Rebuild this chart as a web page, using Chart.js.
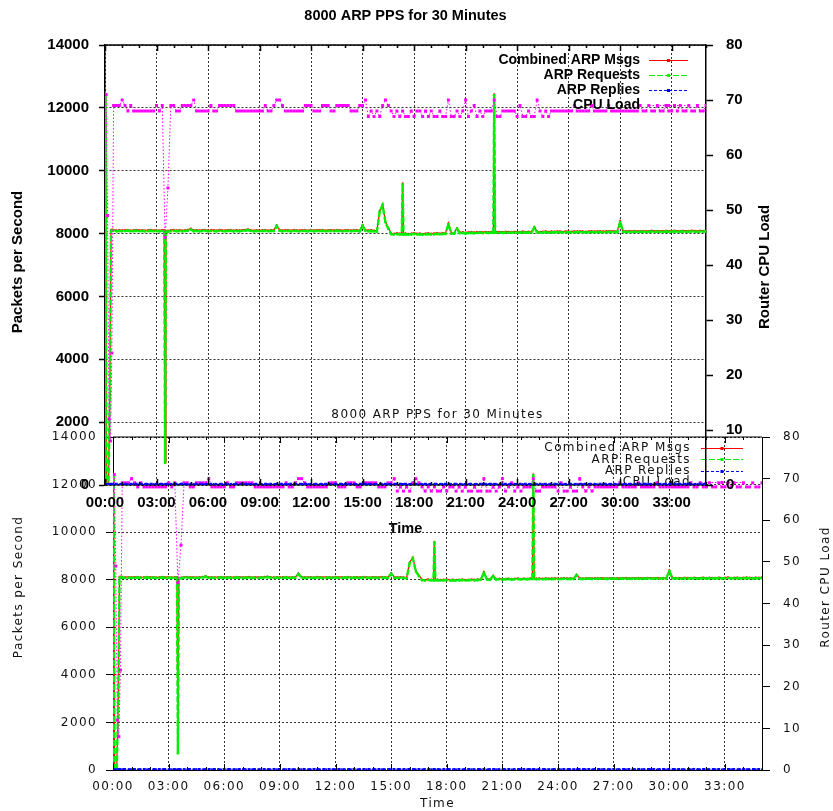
<!DOCTYPE html>
<html>
<head>
<meta charset="utf-8">
<title>8000 ARP PPS for 30 Minutes</title>
<script src="https://cdn.jsdelivr.net/npm/chart.js@4.4.1/dist/chart.umd.min.js"></script>
<style>
  body { margin: 0; background: #fff; }
  #stage { position: relative; width: 833px; height: 811px; overflow: hidden; }
  canvas { position: absolute; left: 0; }
</style>
</head>
<body>
<div id="stage">
  <canvas id="lower" width="833" height="411" style="top:400px"></canvas>
  <canvas id="upper" width="833" height="545" style="top:0"></canvas>
</div>
<script>
const chartTitle = '8000 ARP PPS for 30 Minutes';
const seriesNames = ['Combined ARP Msgs', 'ARP Requests', 'ARP Replies', 'CPU Load'];
const xTickLabels = ['00:00', '03:00', '06:00', '09:00', '12:00', '15:00', '18:00', '21:00', '24:00', '27:00', '30:00', '33:00'];
const ppsTicks = [0, 2000, 4000, 6000, 8000, 10000, 12000, 14000];
const cpuTicks = [0, 10, 20, 30, 40, 50, 60, 70, 80];
const X_MAX = 2100;        // seconds shown on the time axis
const X_TICK_STEP = 180;   // one labelled tick every 3 minutes
const X_MINOR_STEP = 60;

// first seconds of the run, sampled irregularly
const rateStartTimes = [0, 2, 5, 12, 17, 21, 25];
const combinedStart = [0, 12420, 25, 70, 2900, 8120, 8130];
const requestsStart = [0, 12400, 0, 40, 2870, 8090, 8100];
const repliesStart = [0, 20, 25, 30, 30, 30, 30];
const cpuStartTimes = [4, 9, 14, 19, 24];
const cpuStart = [71, 49, 12, 8, 24];

// samples just beside the narrow dip / spikes (03:30, 17:20, 22:40)
const rateEdgeTimes = [207, 213, 1037, 1043, 1357, 1363];
const combinedEdge = [8110, 8090, 8010, 8005, 8050, 8060];
const requestsEdge = [8080, 8060, 7980, 7975, 8020, 8030];
const repliesEdge = [30, 30, 30, 30, 30, 30];

// then one sample every 10 s from t = 30 s
const SAMPLE_START = 30;
const SAMPLE_STEP = 10;

const combinedVals = [
  8120, 8105, 8110, 8105, 8115, 8120, 8100, 8110, 8125, 8105,
  8115, 8100, 8110, 8125, 8105, 8110, 8100, 8115, 720, 8095,
  8110, 8120, 8105, 8115, 8100, 8110, 8120, 8160, 8105, 8115,
  8100, 8115, 8120, 8105, 8110, 8115, 8100, 8120, 8110, 8105,
  8115, 8120, 8100, 8110, 8105, 8115, 8125, 8140, 8110, 8100,
  8115, 8105, 8110, 8120, 8100, 8115, 8110, 8270, 8120, 8105,
  8110, 8115, 8100, 8120, 8110, 8105, 8115, 8110, 8100, 8120,
  8105, 8115, 8110, 8120, 8100, 8110, 8115, 8105, 8120, 8110,
  8100, 8115, 8110, 8105, 8120, 8110, 8100, 8280, 8115, 8105,
  8110, 8100, 8090, 8730, 8930, 8380, 8180, 8010, 8000, 8015,
  8005, 9600, 8010, 7995, 8005, 8020, 8000, 8010, 7995, 8005,
  8015, 8000, 8010, 8020, 8005, 8015, 8020, 8330, 8030, 8025,
  8180, 8040, 8050, 8035, 8045, 8055, 8040, 8050, 8060, 8045,
  8055, 8050, 8060, 12430, 8055, 8060, 8050, 8065, 8055, 8060,
  8065, 8055, 8060, 8070, 8060, 8065, 8055, 8220, 8070, 8060,
  8065, 8075, 8060, 8070, 8065, 8075, 8070, 8060, 8075, 8070,
  8065, 8075, 8070, 8080, 8070, 8065, 8075, 8080, 8070, 8075,
  8080, 8070, 8075, 8085, 8075, 8080, 8070, 8400, 8090, 8080,
  8085, 8075, 8090, 8080, 8085, 8090, 8075, 8085, 8095, 8080,
  8090, 8085, 8080, 8095, 8085, 8090, 8100, 8085, 8090, 8095,
  8085, 8090, 8100, 8090, 8085, 8095, 8090, 8100
];

const requestsVals = [
  8090, 8070, 8085, 8075, 8080, 8095, 8070, 8080, 8090, 8075,
  8085, 8070, 8080, 8090, 8075, 8085, 8070, 8080, 700, 8060,
  8080, 8090, 8075, 8085, 8070, 8080, 8090, 8130, 8075, 8085,
  8070, 8080, 8090, 8075, 8085, 8080, 8070, 8090, 8080, 8075,
  8085, 8090, 8070, 8080, 8075, 8085, 8090, 8110, 8080, 8070,
  8085, 8075, 8080, 8090, 8070, 8085, 8080, 8240, 8090, 8075,
  8080, 8085, 8070, 8090, 8080, 8075, 8085, 8080, 8070, 8090,
  8075, 8085, 8080, 8090, 8070, 8080, 8085, 8075, 8090, 8080,
  8070, 8085, 8080, 8075, 8090, 8080, 8070, 8250, 8085, 8075,
  8080, 8070, 8060, 8700, 8900, 8350, 8150, 7980, 7970, 7985,
  7975, 9570, 7980, 7965, 7975, 7990, 7970, 7980, 7965, 7975,
  7985, 7970, 7980, 7990, 7975, 7985, 7990, 8300, 8000, 7995,
  8150, 8010, 8020, 8005, 8015, 8025, 8010, 8020, 8030, 8015,
  8025, 8020, 8030, 12400, 8025, 8030, 8020, 8035, 8025, 8030,
  8035, 8025, 8030, 8040, 8030, 8035, 8025, 8190, 8040, 8030,
  8035, 8045, 8030, 8040, 8035, 8045, 8040, 8030, 8045, 8040,
  8035, 8045, 8040, 8050, 8040, 8035, 8045, 8050, 8040, 8045,
  8050, 8040, 8045, 8055, 8045, 8050, 8040, 8370, 8060, 8050,
  8055, 8045, 8060, 8050, 8055, 8060, 8045, 8055, 8065, 8050,
  8060, 8055, 8050, 8065, 8055, 8060, 8070, 8055, 8060, 8065,
  8055, 8060, 8070, 8060, 8055, 8065, 8060, 8070
];

const repliesVals = [
  30, 35, 25, 30, 35, 25, 30, 30, 35, 30,
  30, 30, 30, 35, 30, 25, 30, 35, 20, 35,
  25, 35, 30, 25, 40, 30, 25, 30, 35, 30,
  35, 30, 25, 30, 35, 30, 25, 35, 30, 30,
  30, 25, 35, 30, 25, 35, 30, 30, 25, 35,
  30, 35, 25, 30, 35, 30, 25, 30, 35, 30,
  25, 30, 35, 30, 25, 30, 35, 30, 30, 25,
  35, 30, 25, 35, 30, 30, 25, 35, 30, 30,
  30, 25, 35, 30, 30, 25, 35, 30, 30, 35,
  30, 35, 25, 30, 30, 35, 30, 25, 35, 30,
  30, 30, 35, 25, 30, 35, 30, 25, 30, 35,
  25, 30, 35, 30, 25, 35, 30, 30, 25, 30,
  35, 30, 25, 30, 35, 30, 25, 30, 35, 30,
  30, 35, 30, 30, 25, 30, 35, 30, 25, 35,
  30, 25, 30, 35, 30, 30, 25, 35, 30, 30,
  35, 30, 25, 30, 35, 30, 30, 25, 30, 35,
  30, 25, 35, 30, 30, 25, 35, 30, 30, 25,
  35, 30, 30, 25, 35, 30, 25, 30, 35, 30,
  30, 35, 25, 30, 30, 35, 30, 25, 30, 35,
  25, 30, 35, 30, 25, 30, 35, 30, 30, 25,
  30, 35, 30, 25, 30, 35, 30, 30
];

const cpuVals = [
  69, 69, 69, 70, 69, 68, 69, 68, 68, 68,
  68, 68, 68, 68, 68, 69, 68, 69, 45, 54,
  69, 69, 68, 68, 69, 69, 69, 69, 70, 68,
  68, 68, 68, 68, 69, 68, 68, 69, 69, 69,
  69, 69, 69, 68, 68, 68, 68, 68, 68, 68,
  68, 68, 68, 69, 68, 68, 69, 70, 70, 69,
  68, 68, 68, 68, 68, 68, 68, 69, 69, 69,
  68, 68, 68, 69, 69, 69, 68, 68, 69, 69,
  69, 69, 69, 68, 68, 68, 69, 69, 70, 67,
  68, 67, 68, 67, 69, 70, 69, 68, 67, 68,
  67, 68, 67, 67, 68, 67, 68, 68, 67, 68,
  67, 68, 67, 67, 68, 67, 67, 70, 67, 67,
  68, 67, 68, 70, 67, 68, 69, 67, 68, 67,
  68, 68, 68, 70, 67, 67, 68, 68, 68, 68,
  68, 67, 69, 67, 67, 68, 67, 67, 70, 68,
  67, 68, 67, 68, 68, 68, 68, 68, 68, 68,
  68, 69, 68, 68, 68, 68, 68, 69, 68, 68,
  68, 68, 68, 69, 68, 68, 68, 68, 68, 68,
  68, 68, 68, 68, 69, 68, 68, 69, 68, 68,
  69, 68, 68, 69, 68, 68, 69, 68, 69, 68,
  68, 69, 68, 68, 69, 68, 68, 69
];

const pairUp = (times, vals) => times.map((t, i) => ({x: t, y: vals[i]}));

const toPoints = (startTimes, startVals, vals, edgeTimes = [], edgeVals = []) =>
  pairUp(startTimes, startVals)
    .concat(vals.map((v, i) => ({x: SAMPLE_START + i * SAMPLE_STEP, y: v})))
    .concat(pairUp(edgeTimes, edgeVals))
    .sort((a, b) => a.x - b.x);

const makeDatasets = () => [
  {label: seriesNames[0], data: toPoints(rateStartTimes, combinedStart, combinedVals, rateEdgeTimes, combinedEdge),
   borderColor: '#ff0000', borderWidth: 1.2, borderDash: [], pointRadius: 1, order: 3, yAxisID: 'y'},
  {label: seriesNames[1], data: toPoints(rateStartTimes, requestsStart, requestsVals, rateEdgeTimes, requestsEdge),
   borderColor: '#00f000', borderWidth: 2.4, borderDash: [6, 2], pointRadius: 1.3, order: 2, yAxisID: 'y'},
  {label: seriesNames[2], data: toPoints(rateStartTimes, repliesStart, repliesVals, rateEdgeTimes, repliesEdge),
   borderColor: '#0000ff', borderWidth: 2.5, borderDash: [3, 2], pointRadius: 1, order: 1, yAxisID: 'y'},
  {label: seriesNames[3], data: toPoints(cpuStartTimes, cpuStart, cpuVals),
   borderColor: '#ff00ff', borderWidth: 1, borderDash: [1.5, 2], pointStyle: 'rect', pointRadius: 2.1, order: 0, yAxisID: 'y1'}
].map(ds => ({
  ...ds,
  backgroundColor: ds.borderColor,
  pointBackgroundColor: ds.borderColor,
  pointBorderWidth: 0,
  pointHoverRadius: 0,
  fill: false,
  tension: 0
}));

// canvas letter spacing, used to widen the lower plot's stretched lettering
const textSpread = {
  id: 'textSpread',
  beforeUpdate(chart, args, o) { chart.ctx.letterSpacing = (o.px || 0) + 'px'; },
  beforeDraw(chart, args, o) { chart.ctx.letterSpacing = (o.px || 0) + 'px'; }
};

// top border plus gnuplot style inward tics on the time axis
const gnuFrame = {
  id: 'gnuFrame',
  afterDatasetsDraw(chart, args, o) {
    const {ctx, chartArea: a, scales: {x}} = chart;
    ctx.save();
    ctx.strokeStyle = '#000';
    ctx.lineWidth = o.width;
    ctx.setLineDash([]);
    ctx.beginPath();
    ctx.moveTo(a.left, a.top);
    ctx.lineTo(a.right, a.top);
    for (let t = 0; t <= X_MAX; t += X_MINOR_STEP) {
      const px = Math.round(x.getPixelForValue(t)) + 0.5;
      const len = t % X_TICK_STEP === 0 ? o.major : o.minor;
      ctx.moveTo(px, a.top);
      ctx.lineTo(px, a.top + len);
      ctx.moveTo(px, a.bottom);
      ctx.lineTo(px, a.bottom - len);
    }
    ctx.stroke();
    ctx.restore();
  }
};

// key inside the plot: right aligned text, line sample to its right
const gnuLegend = {
  id: 'gnuLegend',
  afterDatasetsDraw(chart, args, o) {
    const ctx = chart.ctx;
    ctx.save();
    ctx.font = o.font;
    ctx.textAlign = 'right';
    ctx.textBaseline = 'middle';
    chart.data.datasets.forEach((ds, i) => {
      const y = o.top + i * o.rowHeight;
      ctx.fillStyle = o.color;
      ctx.fillText(ds.label, o.textRight, y);
      ctx.strokeStyle = ds.borderColor;
      ctx.lineWidth = 1;
      ctx.setLineDash(ds.borderDash);
      ctx.beginPath();
      ctx.moveTo(o.x1, Math.round(y) + 0.5);
      ctx.lineTo(o.x2, Math.round(y) + 0.5);
      ctx.stroke();
      ctx.setLineDash([]);
      ctx.fillStyle = ds.borderColor;
      ctx.fillRect((o.x1 + o.x2) / 2 - 1.5, Math.round(y) - 1, 3, 3);
    });
    ctx.restore();
  }
};

// rotated axis labels, both read bottom to top as in gnuplot
const sideTitles = {
  id: 'sideTitles',
  afterDraw(chart, args, o) {
    const ctx = chart.ctx;
    ctx.save();
    ctx.font = o.font;
    ctx.fillStyle = o.color;
    ctx.textAlign = 'center';
    ctx.textBaseline = 'middle';
    o.items.forEach(it => {
      ctx.save();
      ctx.translate(it.x, it.y);
      ctx.rotate(-Math.PI / 2);
      ctx.fillText(it.text, 0, 0);
      ctx.restore();
    });
    ctx.restore();
  }
};

const GRID = 'rgba(0,0,0,0.8)';

const makeChart = (id, s) => new Chart(document.getElementById(id), {
  type: 'line',
  data: {datasets: makeDatasets()},
  options: {
    responsive: false,
    animation: false,
    devicePixelRatio: 1,
    events: [],
    layout: {padding: s.padding},
    plugins: {
      legend: {display: false},
      tooltip: {enabled: false},
      title: {display: true, text: chartTitle, color: s.color, font: s.titleFont, padding: s.titlePad},
      textSpread: {px: s.spread},
      gnuFrame: {width: s.axisWidth, major: 6, minor: 3},
      gnuLegend: s.legend,
      sideTitles: s.sideTitles
    },
    scales: {
      x: {
        type: 'linear', min: 0, max: X_MAX, bounds: 'data',
        afterBuildTicks: sc => { sc.ticks = xTickLabels.map((_, i) => ({value: i * X_TICK_STEP})); },
        afterFit: sc => { sc.height = s.xHeight; },
        ticks: {callback: (v, i) => xTickLabels[i], font: s.tickFont, color: s.color,
                padding: s.xTickPad, maxRotation: 0, autoSkip: false},
        grid: {color: GRID, lineWidth: 1, drawTicks: false},
        border: {display: true, color: '#000', width: s.axisWidth, dash: [2, 2]},
        title: {display: true, text: 'Time', font: s.labelFont, color: s.color,
                padding: {top: 0, bottom: s.xTitlePad}}
      },
      y: {
        position: 'left', min: ppsTicks[0], max: ppsTicks[ppsTicks.length - 1], bounds: 'data',
        afterBuildTicks: sc => { sc.ticks = ppsTicks.map(v => ({value: v})); },
        afterFit: sc => { sc.width = s.yWidth; },
        ticks: {callback: v => String(v), font: s.tickFont, color: s.color, padding: s.yTickPad},
        grid: {color: GRID, lineWidth: 1, drawTicks: true, tickLength: s.yTickLen,
               tickColor: '#000', tickWidth: s.axisWidth, tickBorderDash: []},
        border: {display: true, color: '#000', width: s.axisWidth, dash: [2, 2]}
      },
      y1: {
        position: 'right', min: cpuTicks[0], max: cpuTicks[cpuTicks.length - 1], bounds: 'data',
        afterBuildTicks: sc => { sc.ticks = cpuTicks.map(v => ({value: v})); },
        afterFit: sc => { sc.width = s.y1Width; },
        ticks: {callback: v => String(v), font: s.tickFont, color: s.color, padding: s.y1TickPad},
        grid: {drawOnChartArea: false, drawTicks: true, tickLength: s.y1TickLen,
               color: '#000', tickColor: '#000', tickWidth: s.axisWidth, tickBorderDash: []},
        border: {display: true, color: '#000', width: s.axisWidth}
      }
    }
  },
  plugins: [textSpread, gnuFrame, gnuLegend, sideTitles]
});

const boldFace = 'Liberation Sans, Arial, Helvetica, sans-serif';
const plainFace = 'DejaVu Sans, Verdana, sans-serif';

// lower (normal weight) plot, drawn first so the upper one sits above it
makeChart('lower', {
  color: '#111',
  spread: 1.4,
  axisWidth: 1,
  padding: {left: 42, right: 0, top: 0, bottom: 0},
  titleFont: {family: plainFace, size: 12, weight: 'normal'},
  titlePad: {top: 7.8, bottom: 14.8},
  tickFont: {family: plainFace, size: 12},
  labelFont: {family: plainFace, size: 12},
  xHeight: 41, xTickPad: 9.8, xTitlePad: 0.3,
  yWidth: 71, yTickLen: 7, yTickPad: 9,
  y1Width: 71, y1TickLen: 8, y1TickPad: 13,
  legend: {font: '12px ' + plainFace, color: '#111', textRight: 691, top: 48, rowHeight: 11.4, x1: 701, x2: 743},
  sideTitles: {font: '12px ' + plainFace, color: '#111', items: [
    {text: 'Packets per Second', x: 19, y: 187},
    {text: 'Router CPU Load', x: 826, y: 187}
  ]}
});

// upper (bold) plot
makeChart('upper', {
  color: '#000',
  spread: 0,
  axisWidth: 1.5,
  padding: {left: 0, right: 22, top: 0, bottom: 0},
  titleFont: {family: boldFace, size: 14.5, weight: 'bold'},
  titlePad: {top: 7.3, bottom: 20.3},
  tickFont: {family: boldFace, size: 15, weight: 'bold'},
  labelFont: {family: boldFace, size: 14.5, weight: 'bold'},
  xHeight: 60, xTickPad: 8.5, xTitlePad: 7.8,
  yWidth: 105, yTickLen: 6, yTickPad: 10,
  y1Width: 105, y1TickLen: 7, y1TickPad: 13,
  legend: {font: 'bold 14px ' + boldFace, color: '#000', textRight: 640, top: 60, rowHeight: 15, x1: 649, x2: 688},
  sideTitles: {font: 'bold 15px ' + boldFace, color: '#000', items: [
    {text: 'Packets per Second', x: 18, y: 262},
    {text: 'Router CPU Load', x: 765, y: 267}
  ]}
});
</script>
</body>
</html>
